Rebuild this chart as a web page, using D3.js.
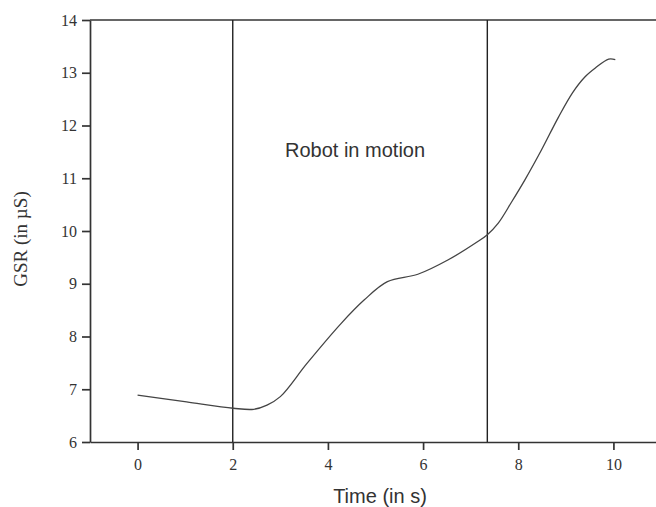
<!DOCTYPE html>
<html>
<head>
<meta charset="utf-8">
<script src="https://cdn.jsdelivr.net/npm/d3@7"></script>
<style>
    body { margin: 0; background: #fff; }
    #chart-holder { width: 656px; height: 507px; }
    .tick text { font-family: "Liberation Serif", "Times New Roman", serif; font-size: 16px; fill: #333; }
    .tick line, .domain { stroke: #333; stroke-width: 1.7px; }
</style>
</head>
<body>
<div id="chart-holder"></div>
<script>
// GSR readings over time
const time = [0, 1.03, 2.01, 2.44, 2.72, 3.0, 3.56, 4.27, 4.76, 5.25, 5.89, 6.52, 7.15, 7.35, 7.58, 7.86, 8.14, 8.49, 8.84, 9.14, 9.4, 9.62, 9.9, 10.04];
const gsr = [6.89, 6.76, 6.64, 6.62, 6.70, 6.86, 7.49, 8.24, 8.69, 9.04, 9.18, 9.45, 9.80, 9.93, 10.15, 10.55, 10.97, 11.54, 12.15, 12.62, 12.92, 13.09, 13.26, 13.25];

// motion window (start / end of robot motion)
const motionLines = [2, 7.35];
const motionLabel = "Robot in motion";

const xTicks = [0, 2, 4, 6, 8, 10];
const yTicks = [6, 7, 8, 9, 10, 11, 12, 13, 14];

const width = document.querySelector("#chart-holder").clientWidth;
const height = document.querySelector("#chart-holder").clientHeight;

const margin = { top: 20, right: -5, bottom: 65, left: 90 };

const svg = d3.select("#chart-holder")
    .append("svg")
    .attr("width", width)
    .attr("height", height);

const x = d3.scaleLinear()
    .domain([-1, 11])
    .range([margin.left, width - margin.right]);

const y = d3.scaleLinear()
    .domain([6, 14])
    .range([height - margin.bottom, margin.top]);

// axes
svg.append("g")
    .attr("transform", `translate(0,${height - margin.bottom})`)
    .call(d3.axisBottom(x).tickValues(xTicks).tickSize(8).tickPadding(9).tickSizeOuter(0));

svg.append("g")
    .attr("transform", `translate(${margin.left},0)`)
    .call(d3.axisLeft(y).tickValues(yTicks).tickSize(8).tickPadding(5).tickSizeOuter(0));

// top border
svg.append("line")
    .attr("x1", x(-1))
    .attr("x2", x(11))
    .attr("y1", y(14))
    .attr("y2", y(14))
    .attr("stroke", "#333")
    .attr("stroke-width", 1.7);

// motion boundaries
svg.selectAll(".motion")
    .data(motionLines)
    .enter()
    .append("line")
    .attr("class", "motion")
    .attr("x1", d => x(d))
    .attr("x2", d => x(d))
    .attr("y1", y(6))
    .attr("y2", y(14))
    .attr("stroke", "#222")
    .attr("stroke-width", 1.4);

svg.append("text")
    .attr("x", x(4.57))
    .attr("y", y(11.5) + 5)
    .attr("text-anchor", "middle")
    .style("font-family", "'Liberation Sans', Arial, sans-serif")
    .style("font-size", "20px")
    .attr("fill", "#333")
    .text(motionLabel);

// GSR curve
const line = d3.line()
    .x((d, i) => x(time[i]))
    .y(d => y(d))
    .curve(d3.curveCatmullRom.alpha(0.5));

svg.append("path")
    .datum(gsr)
    .attr("d", line)
    .attr("fill", "none")
    .attr("stroke", "#444")
    .attr("stroke-width", 1.3);

// axis titles
svg.append("text")
    .attr("x", 380)
    .attr("y", 503)
    .attr("text-anchor", "middle")
    .style("font-family", "'Liberation Sans', Arial, sans-serif")
    .style("font-size", "20px")
    .attr("fill", "#333")
    .text("Time (in s)");

svg.append("text")
    .attr("transform", `translate(27,${(y(6) + y(14)) / 2 + 8}) rotate(-90)`)
    .attr("text-anchor", "middle")
    .style("font-family", "'Liberation Serif', 'Times New Roman', serif")
    .style("font-size", "19px")
    .attr("fill", "#333")
    .text("GSR (in µS)");
</script>
</body>
</html>
